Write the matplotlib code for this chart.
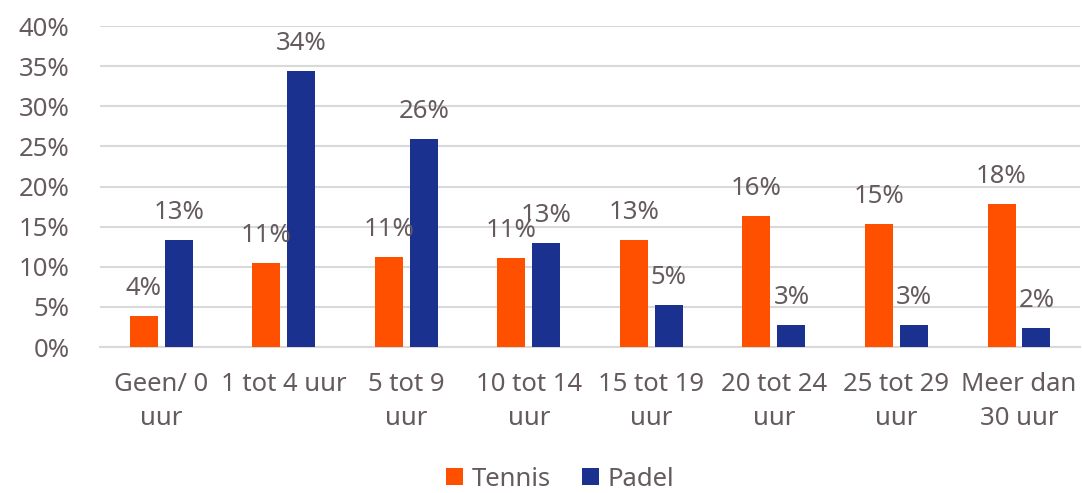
import matplotlib
matplotlib.use("Agg")
import matplotlib.pyplot as plt
import numpy as np

categories = ["Geen/ 0\nuur", "1 tot 4 uur", "5 tot 9\nuur", "10 tot 14\nuur",
              "15 tot 19\nuur", "20 tot 24\nuur", "25 tot 29\nuur", "Meer dan\n30 uur"]
tennis = [3.9, 10.5, 11.2, 11.1, 13.3, 16.3, 15.3, 17.8]
padel = [13.3, 34.4, 25.9, 12.95, 5.2, 2.7, 2.7, 2.4]
tennis_labels = ["4%", "11%", "11%", "11%", "13%", "16%", "15%", "18%"]
padel_labels = ["13%", "34%", "26%", "13%", "5%", "3%", "3%", "2%"]
yticks = [0, 5, 10, 15, 20, 25, 30, 35, 40]

orange = "#ff5000"
blue = "#1a318f"
txt = "#655b5e"
grid = "#d9d9d9"
fs = 18.5

plt.rcParams['font.family'] = ['Noto Sans', 'DejaVu Sans']
fig = plt.figure(figsize=(10.82, 4.93), dpi=100)
ax = fig.add_axes([0.0924, 0.296, 0.906, 0.651])

x = np.arange(len(categories))
w = 0.228
gap = 0.057
off = (w + gap) / 2
b1 = ax.bar(x - off, tennis, w, color=orange, label="Tennis", zorder=3)
b2 = ax.bar(x + off, padel, w, color=blue, label="Padel", zorder=3)

for bars, labs in ((b1, tennis_labels), (b2, padel_labels)):
    for r, lab in zip(bars, labs):
        ax.annotate(lab, (r.get_x() + r.get_width() / 2, r.get_height()),
                    xytext=(0, 11), textcoords="offset points",
                    ha="center", va="bottom", fontsize=fs, color=txt, zorder=4)

ax.set_xlim(-0.5, len(categories) - 0.5)
ax.set_ylim(0, 40)
ax.set_yticks(yticks)
ax.set_yticklabels([f"{t}%" for t in yticks])
ax.set_xticks(x)
ax.set_xticklabels(categories, linespacing=1.45)
ax.tick_params(axis="both", length=0, labelsize=fs, colors=txt)
ax.tick_params(axis="y", pad=22)
ax.tick_params(axis="x", pad=18)
ax.yaxis.grid(True, color=grid, linewidth=1.5, zorder=0)
for s in ["top", "right", "left"]:
    ax.spines[s].set_visible(False)
ax.spines["bottom"].set_color(grid)
ax.spines["bottom"].set_linewidth(1.5)

leg = fig.legend(loc="center", bbox_to_anchor=(0.518, 0.028), ncol=2, frameon=False,
                 fontsize=fs, handlelength=0.65, handleheight=0.65, handletextpad=0.35,
                 columnspacing=1.2, borderpad=0.2)
for t in leg.get_texts():
    t.set_color(txt)

fig.savefig("out.png", dpi=100)
